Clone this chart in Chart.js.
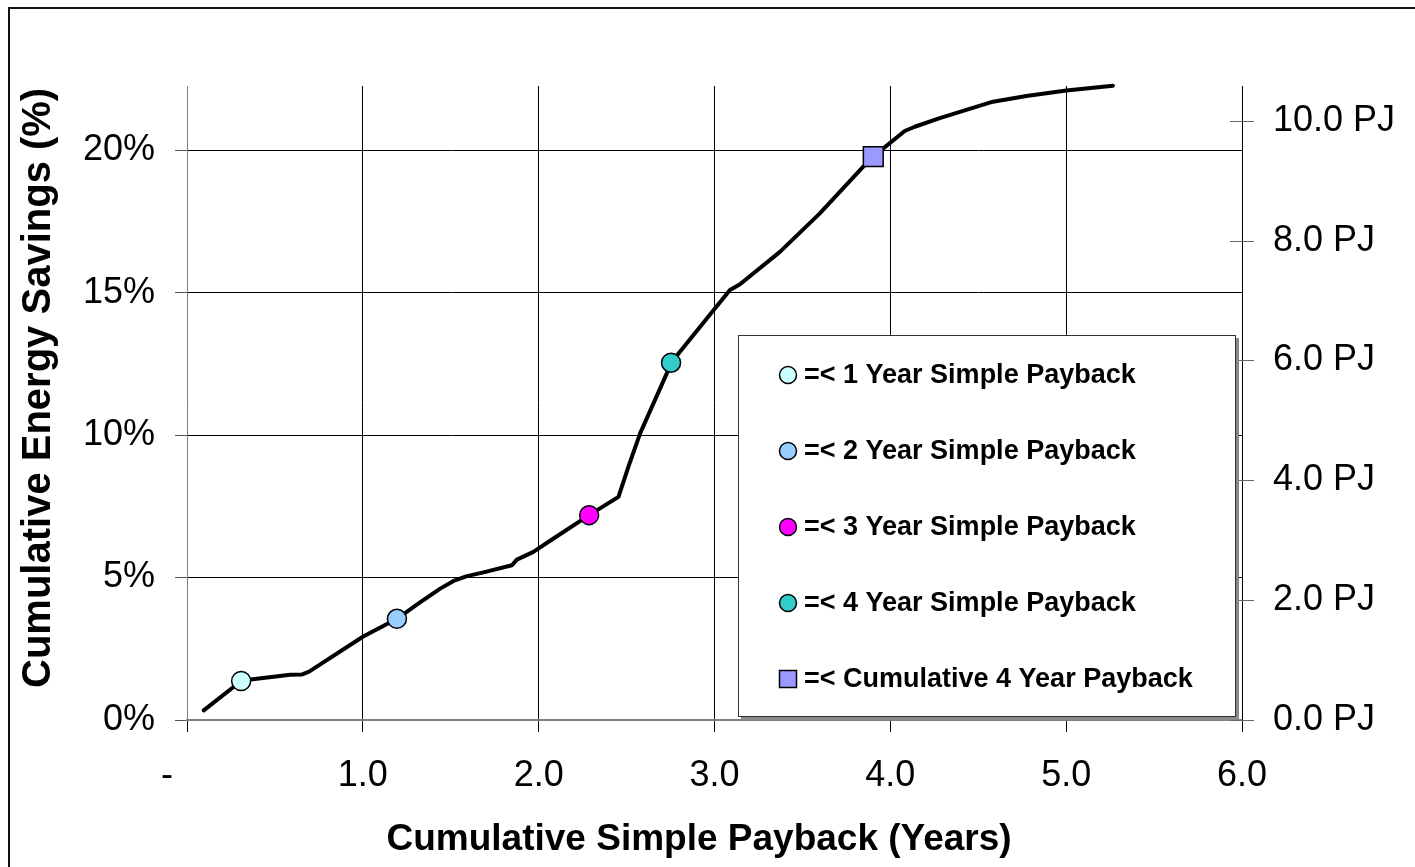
<!DOCTYPE html>
<html><head><meta charset="utf-8">
<script src="https://cdn.jsdelivr.net/npm/chart.js@4.4.0/dist/chart.umd.min.js"></script>
<style>html,body{margin:0;padding:0;background:#fff}#wrap{position:relative;width:1415px;height:867px}</style>
</head><body><div id="wrap"><canvas id="c"></canvas></div>
<script>
// Cumulative curve (years, % savings)
const curveX = [0.095, 0.308, 0.361, 0.588, 0.655, 0.692, 1.000, 1.194, 1.317, 1.440, 1.516, 1.592, 1.686, 1.848, 1.876, 1.970, 2.065, 2.287, 2.454, 2.510, 2.577, 2.737, 2.753, 2.993, 3.088, 3.145, 3.372, 3.599, 3.846, 3.903, 3.960, 4.082, 4.139, 4.281, 4.584, 4.774, 5.001, 5.266];
const curveY = [0.34, 1.37, 1.42, 1.59, 1.60, 1.69, 2.92, 3.55, 4.09, 4.61, 4.88, 5.05, 5.18, 5.43, 5.63, 5.90, 6.29, 7.19, 7.83, 8.88, 10.06, 12.28, 12.54, 14.37, 15.09, 15.29, 16.43, 17.78, 19.42, 19.77, 20.06, 20.67, 20.82, 21.12, 21.70, 21.90, 22.09, 22.26];

const markerNames = ['=< 1 Year Simple Payback', '=< 2 Year Simple Payback', '=< 3 Year Simple Payback', '=< 4 Year Simple Payback', '=< Cumulative 4 Year Payback'];
const markerX = [0.308, 1.194, 2.287, 2.753, 3.903];
const markerY = [1.37, 3.55, 7.19, 12.54, 19.77];
const markerColors = ['#CCFFFF', '#99CCFF', '#FF00FF', '#33CCCC', '#9999FF'];
const markerShapes = ['circle', 'circle', 'circle', 'circle', 'rect'];

const xTicks = [0, 1, 2, 3, 4, 5, 6];
const xTickLabels = ['-\u00a0\u00a0\u00a0\u00a0', '1.0', '2.0', '3.0', '4.0', '5.0', '6.0'];
const yTicks = [0, 5, 10, 15, 20];
const yTickLabels = ['0%', '5%', '10%', '15%', '20%'];
const y2Ticks = [0, 2, 4, 6, 8, 10];
const y2TickLabels = ['0.0 PJ', '2.0 PJ', '4.0 PJ', '6.0 PJ', '8.0 PJ', '10.0 PJ'];

const FONT = "'Liberation Sans', Arial, sans-serif";

const datasets = [{
  label: 'curve',
  data: curveX.map((x, i) => ({x, y: curveY[i]})),
  borderColor: '#000',
  borderWidth: 4,
  borderJoinStyle: 'round',
  borderCapStyle: 'round',
  pointRadius: 0,
  showLine: true,
  tension: 0,
  clip: false,
  order: 10
}];
markerNames.forEach((n, i) => {
  datasets.push({
    label: n,
    data: [{x: markerX[i], y: markerY[i]}],
    backgroundColor: markerColors[i],
    borderColor: '#000',
    borderWidth: 1.5,
    pointStyle: markerShapes[i],
    pointRadius: markerShapes[i] === 'rect' ? 14 : 9.5,
    showLine: false,
    clip: false,
    order: 1
  });
});

const bgPlugin = {
  id: 'bg',
  beforeDraw(chart) {
    const c = chart.ctx;
    c.save();
    c.fillStyle = '#fff';
    c.fillRect(0, 0, chart.width, chart.height);
    c.strokeStyle = '#111';
    c.lineWidth = 2;
    c.beginPath();
    c.moveTo(9, chart.height + 5);
    c.lineTo(9, 8);
    c.lineTo(chart.width + 5, 8);
    c.stroke();
    c.restore();
  }
};

const extrasPlugin = {
  id: 'extras',
  afterDraw(chart) {
    const c = chart.ctx;
    const y2 = chart.scales.y2;
    const a = chart.chartArea;
    c.save();
    // right axis cross ticks
    c.strokeStyle = '#666';
    c.lineWidth = 1;
    y2.ticks.forEach(t => {
      const py = Math.round(y2.getPixelForValue(t.value)) + 0.5;
      c.beginPath();
      c.moveTo(a.right - 12, py);
      c.lineTo(a.right + 12, py);
      c.stroke();
    });
    // legend box
    const L = 738, T = 335, R = 1236, B = 717;
    c.fillStyle = '#888';
    c.fillRect(L + 3, T + 3, R - L, B - T);
    c.fillStyle = '#fff';
    c.fillRect(L, T, R - L, B - T);
    c.strokeStyle = '#333';
    c.lineWidth = 1;
    c.strokeRect(L + 0.5, T + 0.5, R - L - 1, B - T - 1);
    c.font = 'bold 27px ' + FONT;
    c.textBaseline = 'middle';
    c.textAlign = 'left';
    const ds = chart.data.datasets.slice(1);
    ds.forEach((d, i) => {
      const cy = 375 + i * 76;
      const cx = 788;
      c.fillStyle = d.backgroundColor;
      c.strokeStyle = '#000';
      c.lineWidth = 1.5;
      c.beginPath();
      if (d.pointStyle === 'rect') {
        c.rect(cx - 8.5, cy - 8.5, 17, 17);
      } else {
        c.arc(cx, cy, 8.5, 0, Math.PI * 2);
      }
      c.fill();
      c.stroke();
      c.fillStyle = '#000';
      c.fillText(d.label, 804, cy + 1);
    });
    c.restore();
  }
};

new Chart(document.getElementById('c'), {
  type: 'scatter',
  data: {datasets},
  options: {
    responsive: true,
    maintainAspectRatio: false,
    animation: false,
    layout: {padding: {top: 86, left: 0, right: 0, bottom: 0}},
    plugins: {legend: {display: false}, tooltip: {enabled: false}},
    scales: {
      x: {
        type: 'linear', min: 0, max: 6,
        afterBuildTicks: s => { s.ticks = xTicks.map(v => ({value: v})); },
        afterFit: s => { s.height = 147; },
        ticks: {
          callback: (v, i) => xTickLabels[i],
          font: {family: FONT, size: 36}, color: '#000', padding: 22, maxRotation: 0, autoSkip: false
        },
        grid: {color: '#000', lineWidth: 1, tickLength: 12, tickColor: '#000', tickWidth: 1},
        border: {display: true, color: '#808080', width: 2},
        title: {display: true, text: 'Cumulative Simple Payback (Years)\u00a0\u00a0\u00a0', color: '#000',
          font: {family: FONT, size: 37, weight: 'bold'}, padding: {top: 0, bottom: 5}}
      },
      y: {
        type: 'linear', position: 'left', min: 0, max: 22.25,
        afterBuildTicks: s => { s.ticks = yTicks.map(v => ({value: v})); },
        afterFit: s => { s.width = 187; },
        ticks: {
          callback: (v, i) => yTickLabels[i],
          font: {family: FONT, size: 36}, color: '#000', padding: 20, autoSkip: false
        },
        grid: {color: '#000', lineWidth: 1, tickLength: 12, tickColor: '#555', tickWidth: 1},
        border: {display: true, color: '#808080', width: 1},
        title: {display: true, text: '\u00a0\u00a0\u2009Cumulative Energy Savings (%)', color: '#000',
          font: {family: FONT, size: 40, weight: 'bold'}, padding: {top: 15, bottom: 0}}
      },
      y2: {
        type: 'linear', position: 'right', min: 0, max: 10.58,
        afterBuildTicks: s => { s.ticks = y2Ticks.map(v => ({value: v})); },
        afterFit: s => { s.width = 173; },
        ticks: {
          callback: (v, i) => y2TickLabels[i],
          font: {family: FONT, size: 36}, color: '#000', padding: 31, autoSkip: false
        },
        grid: {display: false, drawOnChartArea: false, drawTicks: false},
        border: {display: true, color: '#000', width: 1}
      }
    }
  },
  plugins: [bgPlugin, extrasPlugin]
});
</script>
</body></html>
